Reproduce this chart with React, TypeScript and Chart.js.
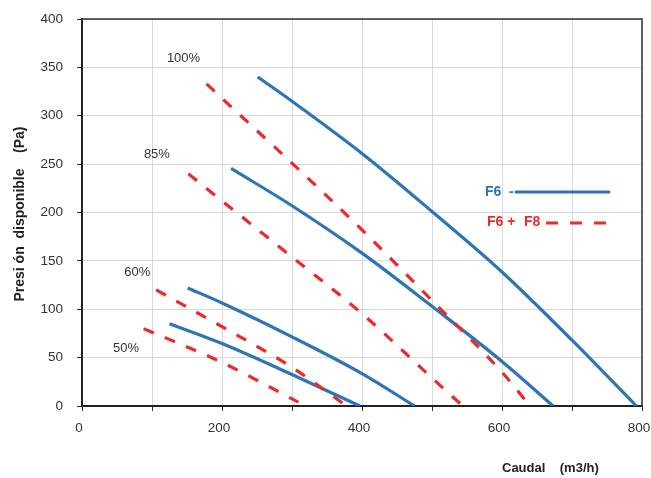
import React, { useEffect, useRef } from "react";
import { Chart, registerables } from "chart.js";

Chart.register(...registerables);

// Caudal (m3/h) and presión disponible (Pa) per curve — F6 filter (solid)
const f6_100_q = [251, 300, 400, 500, 600, 700, 792];
const f6_100_p = [340, 315, 261, 201, 138.5, 68, 0];
const f6_85_q = [213, 300, 400, 500, 600, 673];
const f6_85_p = [245.5, 207, 158, 103, 46, 0];
const f6_60_q = [151, 200, 300, 400, 475];
const f6_60_p = [122, 106.5, 71.5, 33.5, 0];
const f6_50_q = [125, 200, 300, 397];
const f6_50_p = [85, 64.5, 32.5, 0];

// F6 + F8 filters (dashed)
const f8_100_q = [178, 200, 300, 400, 500, 600, 640];
const f8_100_p = [333, 318, 251, 182, 109, 35, 0];
const f8_85_q = [152, 200, 300, 400, 500, 544];
const f8_85_p = [240, 212, 154, 95.5, 29, 0];
const f8_60_q = [106, 200, 300, 378];
const f8_60_p = [120, 82, 40, 0];
const f8_50_q = [88, 200, 309];
const f8_50_p = [80, 45, 4];

const speedLabels = ["100%", "85%", "60%", "50%"];
const speedLabelQ = [145, 107, 79, 63];
const speedLabelP = [359, 260, 138, 59.5];

const xTickValues = [0, 200, 400, 600, 800];

const BLUE = "#2e75b6";
const RED = "#ea2a2b";
const FONT = "'Liberation Sans', Arial, sans-serif";

function pts(q: number[], p: number[]) {
  return q.map((x, i) => ({ x, y: p[i] }));
}

const overlay = {
  id: "overlay",
  afterDraw(chart: any) {
    const { ctx, chartArea, scales } = chart;
    const xs = scales.x;
    const ys = scales.y;
    ctx.save();
    // top and right frame
    ctx.strokeStyle = "#333";
    ctx.lineWidth = 1.5;
    ctx.beginPath();
    ctx.moveTo(chartArea.left, chartArea.top);
    ctx.lineTo(chartArea.right, chartArea.top);
    ctx.lineTo(chartArea.right, chartArea.bottom);
    ctx.stroke();

    // speed labels
    ctx.fillStyle = "#333";
    ctx.font = `13px ${FONT}`;
    ctx.textAlign = "center";
    ctx.textBaseline = "middle";
    speedLabels.forEach((t, i) => {
      ctx.fillText(t, xs.getPixelForValue(speedLabelQ[i]), ys.getPixelForValue(speedLabelP[i]));
    });

    // legend
    ctx.font = `bold 14px ${FONT}`;
    ctx.textAlign = "left";
    ctx.fillStyle = BLUE;
    ctx.fillText("F6", 485, 192);
    ctx.fillText("-", 509, 192);
    ctx.strokeStyle = BLUE;
    ctx.lineWidth = 3;
    ctx.lineCap = "round";
    ctx.beginPath();
    ctx.moveTo(516, 192);
    ctx.lineTo(609, 192);
    ctx.stroke();

    ctx.fillStyle = RED;
    ctx.fillText("F6 +", 487, 222);
    ctx.fillText("F8", 524, 222);
    ctx.strokeStyle = RED;
    ctx.lineCap = "butt";
    ctx.setLineDash([12, 12]);
    ctx.beginPath();
    ctx.moveTo(546, 223);
    ctx.lineTo(610, 223);
    ctx.stroke();
    ctx.setLineDash([]);

    // axis titles
    ctx.fillStyle = "#222";
    ctx.font = `bold 13px ${FONT}`;
    ctx.textAlign = "left";
    ctx.fillText("Caudal    (m3/h)", 502, 468);

    ctx.translate(20, 214);
    ctx.rotate(-Math.PI / 2);
    ctx.textAlign = "center";
    ctx.font = `bold 14px ${FONT}`;
    ctx.fillText("Presi ón  disponible    (Pa)", 0, 0);
    ctx.restore();
  },
};

export default function App() {
  const ref = useRef<HTMLCanvasElement | null>(null);

  useEffect(() => {
    if (!ref.current) return;
    const solid = (q: number[], p: number[]) => ({
      data: pts(q, p),
      borderColor: BLUE,
      borderWidth: 3.2,
      showLine: true,
      pointRadius: 0,
      cubicInterpolationMode: "monotone" as const,
      fill: false,
    });
    const dashed = (q: number[], p: number[]) => ({
      data: pts(q, p),
      borderColor: RED,
      borderWidth: 3.2,
      borderDash: [11, 12],
      showLine: true,
      pointRadius: 0,
      cubicInterpolationMode: "monotone" as const,
      fill: false,
    });
    const chart = new Chart(ref.current, {
      type: "scatter",
      data: {
        datasets: [
          dashed(f8_100_q, f8_100_p),
          dashed(f8_85_q, f8_85_p),
          dashed(f8_60_q, f8_60_p),
          dashed(f8_50_q, f8_50_p),
          solid(f6_100_q, f6_100_p),
          solid(f6_85_q, f6_85_p),
          solid(f6_60_q, f6_60_p),
          solid(f6_50_q, f6_50_p),
        ],
      },
      options: {
        responsive: false,
        animation: false,
        devicePixelRatio: 1,
        layout: { padding: { top: 19, right: 9, left: 0, bottom: 0 } },
        plugins: { legend: { display: false }, tooltip: { enabled: false } },
        scales: {
          x: {
            type: "linear",
            min: 0,
            max: 800,
            afterFit: (s: any) => {
              s.height = 72;
              s.paddingLeft = 0;
              s.paddingRight = 0;
            },
            ticks: {
              stepSize: 100,
              autoSkip: false,
              maxRotation: 0,
              padding: 9,
              labelOffset: -3,
              color: "#333",
              font: { family: FONT, size: 13.5 },
              callback: (v: any) => (xTickValues.includes(Number(v)) ? String(v) : ""),
            },
            grid: { color: "#d9d9d9", lineWidth: 1, tickColor: "#333", tickLength: 5 },
            border: { color: "#222", width: 2 },
          },
          y: {
            type: "linear",
            min: 0,
            max: 400,
            afterFit: (s: any) => {
              s.width = 82;
              s.paddingTop = 0;
              s.paddingBottom = 0;
            },
            ticks: {
              stepSize: 50,
              padding: 14,
              color: "#333",
              font: { family: FONT, size: 13.5 },
            },
            grid: { color: "#d9d9d9", lineWidth: 1, tickColor: "#333", tickLength: 5 },
            border: { color: "#222", width: 2 },
          },
        },
      },
      plugins: [overlay],
    });
    return () => chart.destroy();
  }, []);

  return (
    <div style={{ position: "absolute", left: 0, top: 0, width: 651, height: 478, background: "#fff" }}>
      <canvas ref={ref} width={651} height={478} style={{ width: 651, height: 478 }} />
    </div>
  );
}
